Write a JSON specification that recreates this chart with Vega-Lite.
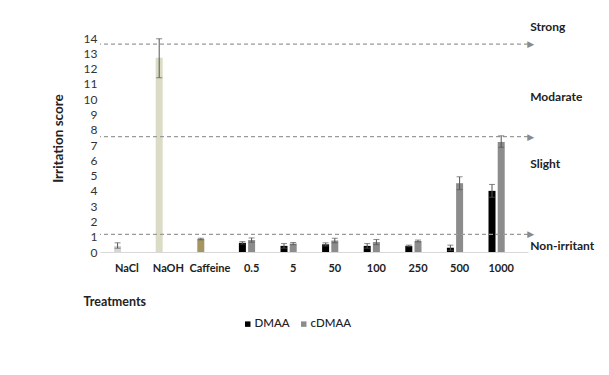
{
  "$schema": "https://vega.github.io/schema/vega-lite/v6.json",
  "autosize": {"type": "none"},
  "width": 428,
  "height": 214,
  "padding": {"left": 100, "top": 38, "right": 81, "bottom": 123},
  "background": "white",
  "config": {
    "view": {"stroke": null},
    "font": "Lato",
    "axis": {"labelOverlap": false},
    "axisY": {"labelOverlap": false, "labelSeparation": 0}
  },
  "datasets": {
    "bars": [
      {"treatment": "NaCl", "slot": "A", "series": "NaCl", "value": 0.4, "lo": 0.25, "hi": 0.6},
      {"treatment": "NaOH", "slot": "A", "series": "NaOH", "value": 12.7, "lo": 11.4, "hi": 13.95},
      {"treatment": "Caffeine", "slot": "A", "series": "Caffeine", "value": 0.85, "lo": 0.8, "hi": 0.9},
      {"treatment": "0.5", "slot": "A", "series": "DMAA", "value": 0.6, "lo": 0.52, "hi": 0.68},
      {"treatment": "0.5", "slot": "B", "series": "cDMAA", "value": 0.78, "lo": 0.64, "hi": 0.92},
      {"treatment": "5", "slot": "A", "series": "DMAA", "value": 0.4, "lo": 0.25, "hi": 0.55},
      {"treatment": "5", "slot": "B", "series": "cDMAA", "value": 0.55, "lo": 0.48, "hi": 0.62},
      {"treatment": "50", "slot": "A", "series": "DMAA", "value": 0.5, "lo": 0.4, "hi": 0.6},
      {"treatment": "50", "slot": "B", "series": "cDMAA", "value": 0.75, "lo": 0.6, "hi": 0.9},
      {"treatment": "100", "slot": "A", "series": "DMAA", "value": 0.4, "lo": 0.25, "hi": 0.55},
      {"treatment": "100", "slot": "B", "series": "cDMAA", "value": 0.65, "lo": 0.48, "hi": 0.82},
      {"treatment": "250", "slot": "A", "series": "DMAA", "value": 0.4, "lo": 0.35, "hi": 0.45},
      {"treatment": "250", "slot": "B", "series": "cDMAA", "value": 0.72, "lo": 0.66, "hi": 0.78},
      {"treatment": "500", "slot": "A", "series": "DMAA", "value": 0.28, "lo": 0.11, "hi": 0.45},
      {"treatment": "500", "slot": "B", "series": "cDMAA", "value": 4.5, "lo": 4.08, "hi": 4.92},
      {"treatment": "1000", "slot": "A", "series": "DMAA", "value": 4.0, "lo": 3.58, "hi": 4.42},
      {"treatment": "1000", "slot": "B", "series": "cDMAA", "value": 7.2, "lo": 6.85, "hi": 7.6}
    ],
    "lines": [
      {"level": 13.6},
      {"level": 7.55},
      {"level": 1.15}
    ],
    "labels": [
      {"text": "Strong", "y": 14.7},
      {"text": "Modarate", "y": 10.13},
      {"text": "Slight", "y": 5.75},
      {"text": "Non-irritant", "y": 0.38}
    ]
  },
  "layer": [
    {
      "data": {"name": "bars"},
      "mark": {"type": "bar", "width": 7},
      "encoding": {
        "x": {
          "field": "treatment", "type": "nominal",
          "sort": ["NaCl", "NaOH", "Caffeine", "0.5", "5", "50", "100", "250", "500", "1000"],
          "scale": {"domain": ["NaCl", "NaOH", "Caffeine", "0.5", "5", "50", "100", "250", "500", "1000"], "paddingInner": 0, "paddingOuter": 0.144},
          "axis": {
            "title": "Treatments", "titleFontSize": 12.5, "titleFontWeight": "bold", "titleColor": "#222",
            "titleAnchor": "start", "titleAlign": "left", "titleBaseline": "middle", "titleX": -17, "titleY": 49,
            "labelAngle": 0, "labelFontSize": 11, "labelFontWeight": "bold", "labelColor": "#222", "labelPadding": 10,
            "labelOverlap": false, "ticks": false, "domainColor": "#d9d9d9", "domainWidth": 1.2
          }
        },
        "xOffset": {"field": "slot", "type": "nominal", "scale": {"domain": ["A", "B", "C"], "paddingInner": 0, "paddingOuter": 0.76}},
        "y": {
          "field": "value", "type": "quantitative",
          "scale": {"domain": [0, 14], "nice": false},
          "axis": {
            "title": "Irritation score", "titleFontSize": 13.5, "titleFontWeight": "bold", "titleColor": "#222",
            "titleX": -42, "titleY": 100, "titleAlign": "center", "titleBaseline": "middle", "titleAngle": -90,
            "values": [0,1,2,3,4,5,6,7,8,9,10,11,12,13,14], "tickCount": 15, "labelOverlap": false, "labelSeparation": 0,
            "labelFontSize": 12, "labelColor": "#333", "labelPadding": 3,
            "ticks": false, "domain": false, "grid": false
          }
        },
        "color": {
          "field": "series", "type": "nominal",
          "scale": {"domain": ["NaCl", "NaOH", "Caffeine", "DMAA", "cDMAA"], "range": ["#d6d6d6", "#dcdcc6", "#a39660", "#000000", "#8c8c8c"]},
          "legend": {
            "values": ["DMAA", "cDMAA"], "title": null, "orient": "none", "direction": "horizontal",
            "legendX": 142, "legendY": 280, "symbolType": "square", "symbolSize": 30, "symbolStrokeWidth": 0,
            "labelFontSize": 11.5, "labelFontWeight": 500, "labelColor": "#222", "columnPadding": 8, "labelOffset": 1
          }
        }
      }
    },
    {
      "data": {"name": "lines"},
      "mark": {"type": "rule", "color": "#9a9a9a", "strokeDash": [4, 3], "strokeWidth": 1.3},
      "encoding": {
        "y": {"field": "level", "type": "quantitative"}
      }
    },
    {
      "data": {"name": "lines"},
      "mark": {"type": "text", "text": "▶", "color": "#8a8a8a", "fontSize": 9, "align": "left", "baseline": "middle", "dx": 26, "font": "DejaVu Sans"},
      "encoding": {
        "x": {"datum": "1000"},
        "y": {"field": "level", "type": "quantitative"}
      }
    },
    {
      "data": {"name": "bars"},
      "mark": {"type": "rule", "color": "#555555", "strokeWidth": 1},
      "encoding": {
        "x": {"field": "treatment", "type": "nominal"},
        "xOffset": {"field": "slot", "type": "nominal"},
        "y": {"field": "lo", "type": "quantitative"},
        "y2": {"field": "hi"}
      }
    },
    {
      "data": {"name": "bars"},
      "mark": {"type": "tick", "color": "#555555", "size": 6, "thickness": 1, "orient": "horizontal"},
      "encoding": {
        "x": {"field": "treatment", "type": "nominal"},
        "xOffset": {"field": "slot", "type": "nominal"},
        "y": {"field": "hi", "type": "quantitative"}
      }
    },
    {
      "data": {"name": "bars"},
      "mark": {"type": "tick", "color": "#555555", "size": 6, "thickness": 1, "orient": "horizontal"},
      "encoding": {
        "x": {"field": "treatment", "type": "nominal"},
        "xOffset": {"field": "slot", "type": "nominal"},
        "y": {"field": "lo", "type": "quantitative"}
      }
    },
    {
      "data": {"name": "labels"},
      "mark": {"type": "text", "align": "left", "baseline": "middle", "fontSize": 12, "fontWeight": "bold", "color": "#222", "dx": 29},
      "encoding": {
        "x": {"datum": "1000"},
        "y": {"field": "y", "type": "quantitative"},
        "text": {"field": "text"}
      }
    }
  ],
  "resolve": {"scale": {"x": "shared", "y": "shared"}}
}
